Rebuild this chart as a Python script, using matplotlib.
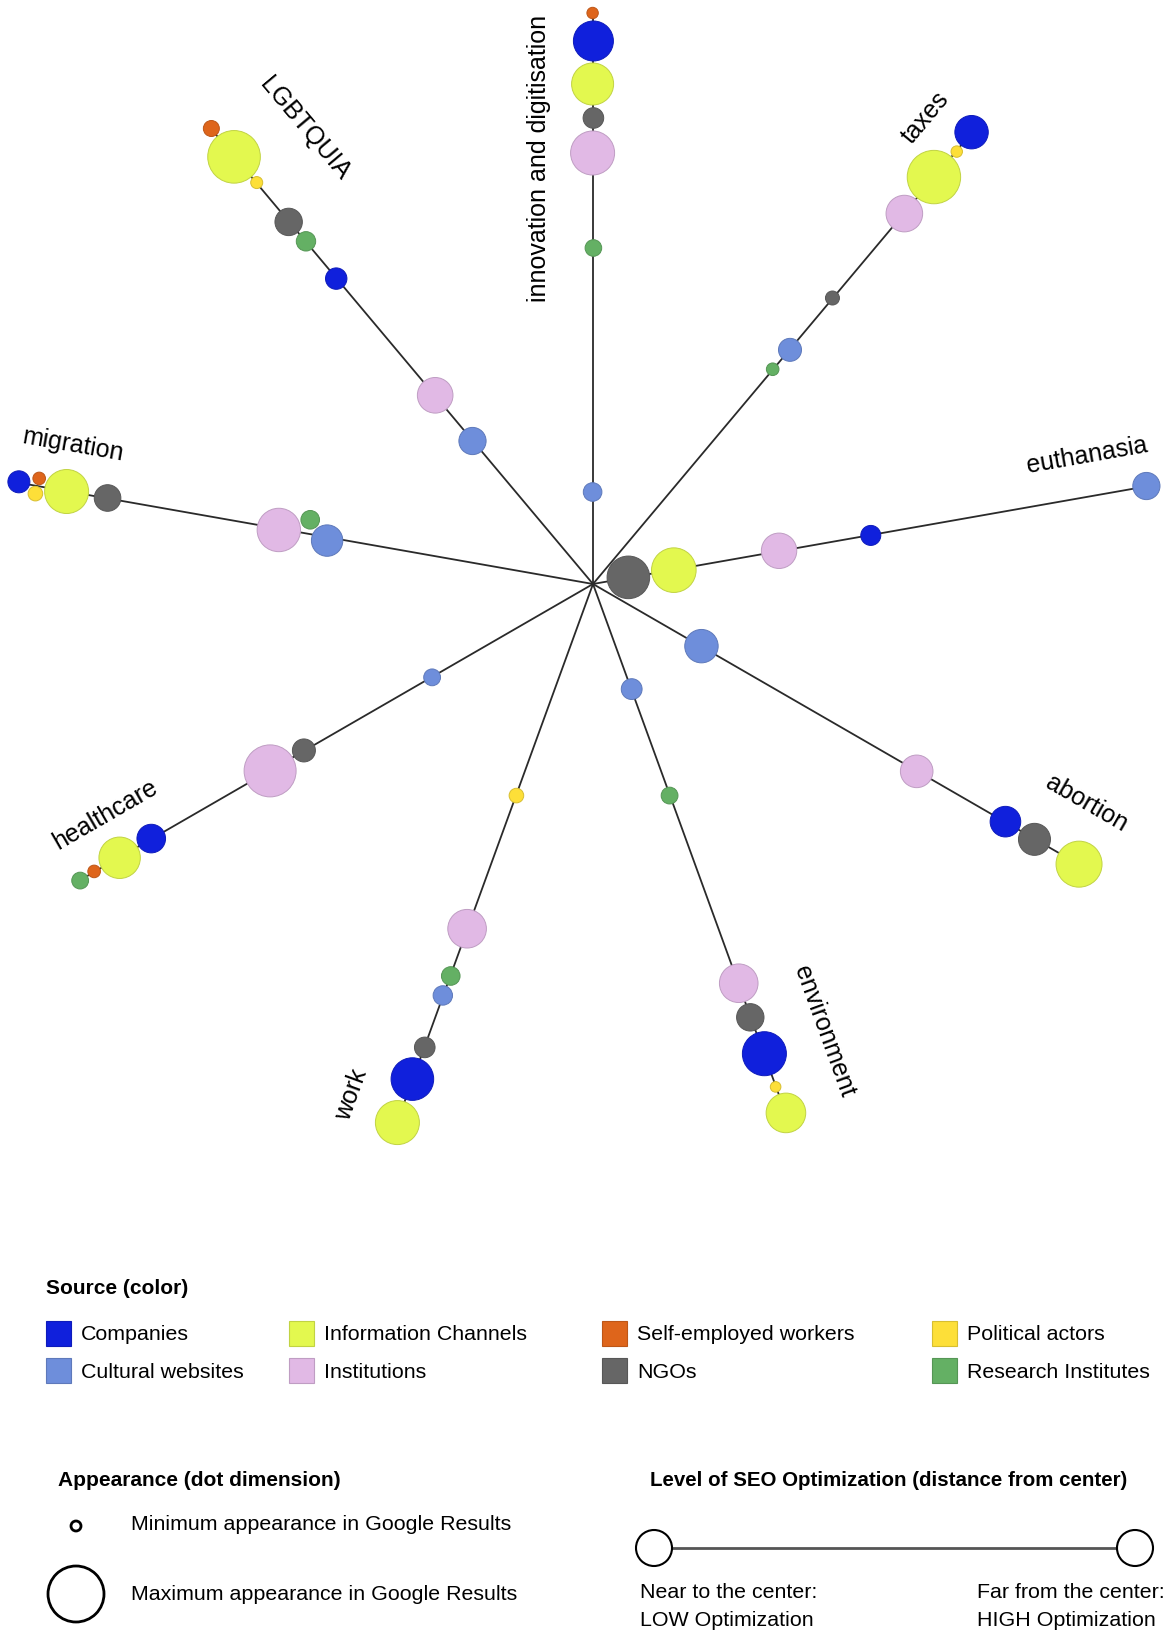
import numpy as np
import matplotlib
matplotlib.use('Agg')
import matplotlib.pyplot as plt
import matplotlib.colors as mcolors
from matplotlib.patches import Circle, Rectangle

plt.rcParams['font.family'] = ['Liberation Sans', 'DejaVu Sans']

# source categories and their colours
categories = ['Companies', 'Cultural websites', 'Information Channels', 'Institutions',
              'Self-employed workers', 'NGOs', 'Political actors', 'Research Institutes']
colors = ['#1020dc', '#6e8edb', '#e3f84f', '#e1b9e5', '#de651b', '#666666', '#fddf38', '#64b064']

topics = ['innovation and digitisation', 'taxes', 'euthanasia', 'abortion', 'environment',
          'work', 'healthcare', 'migration', 'LGBTQUIA']
angles = [90, 50, 10, -30, -70, -110, -150, 170, 130]

# (source, SEO level = distance from centre, appearance = dot radius)
innovation = [('Cultural websites', 92, 9.3), ('Research Institutes', 336, 8.3),
              ('Institutions', 431, 22), ('NGOs', 466, 10.3), ('Information Channels', 500, 21),
              ('Companies', 543, 20), ('Self-employed workers', 571, 5.7)]
taxes = [('Research Institutes', 280, 6.3), ('Cultural websites', 306, 11.5), ('NGOs', 373, 7.0),
         ('Institutions', 484, 18.3), ('Information Channels', 531, 26.7),
         ('Political actors', 565, 5.7), ('Companies', 589, 16.7)]
euthanasia = [('NGOs', 36, 21.3), ('Information Channels', 82, 22.3), ('Institutions', 189, 17.7),
              ('Companies', 282, 10), ('Cultural websites', 562, 13.6)]
abortion = [('Cultural websites', 125, 16.7), ('Institutions', 374, 16.3), ('Companies', 476, 15.3),
            ('NGOs', 510, 16), ('Information Channels', 561, 23)]
environment = [('Cultural websites', 112, 10.4), ('Research Institutes', 225, 8.4),
               ('Institutions', 425, 19.3), ('NGOs', 461, 13.7), ('Companies', 500, 22),
               ('Political actors', 535, 5.3), ('Information Channels', 563, 19.8)]
work = [('Political actors', 225, 7.3), ('Institutions', 367, 19.3), ('Research Institutes', 417, 9.3),
        ('Cultural websites', 438, 9.7), ('NGOs', 493, 10.3), ('Companies', 527, 21.3),
        ('Information Channels', 573, 22)]
healthcare = [('Cultural websites', 186, 8.4), ('NGOs', 334, 11.5), ('Institutions', 373, 26),
              ('Companies', 510, 14.3), ('Information Channels', 547, 20.7),
              ('Self-employed workers', 574, 6.3), ('Research Institutes', 592, 8.4)]
migration = [('Cultural websites', 273, 15.7), ('Research Institutes', 289, 9.3),
             ('Institutions', 317, 21.7), ('NGOs', 493, 13.3), ('Information Channels', 535, 22),
             ('Self-employed workers', 563, 6.3), ('Political actors', 563, 7.3), ('Companies', 582, 11)]
lgbtquia = [('Cultural websites', 187, 13.6), ('Institutions', 246, 17.8), ('Companies', 399, 10.7),
            ('Research Institutes', 447, 9.7), ('NGOs', 473, 13.7), ('Political actors', 525, 6),
            ('Information Channels', 558, 26.3), ('Self-employed workers', 593, 8)]

spokes = [innovation, taxes, euthanasia, abortion, environment, work, healthcare, migration, lgbtquia]

# label placement along / across each spoke
label_along = [426, 571, 509, 537, 499, 562, 538, 536, 534]
label_perp = [54, 45, 41, 57, 64, -52, -44, -47, -72]

cx, cy = 593, 584
W, H = 1168, 1637


def darker(c, f=0.85):
    rgb = np.array(mcolors.to_rgb(c))
    return tuple(rgb * f)


def relax(tx, ty, r, n_iter=300, pad=2.0, pull=0.05):
    # tiny collision-avoiding layout, like a force simulation
    x, y = tx.copy(), ty.copy()
    n = len(x)
    for it in range(n_iter):
        x += pull * (tx - x)
        y += pull * (ty - y)
        dx = x[None, :] - x[:, None]
        dy = y[None, :] - y[:, None]
        dist = np.hypot(dx, dy) + np.eye(n)
        need = r[:, None] + r[None, :] + pad
        over = np.triu(dist < need, 1)
        for i, j in zip(*np.nonzero(over)):
            ddx, ddy = x[j] - x[i], y[j] - y[i]
            d = np.hypot(ddx, ddy)
            if d < 1e-6:
                continue
            shift = (need[i, j] - d) / d
            wi = r[j] ** 2 / (r[i] ** 2 + r[j] ** 2)
            x[i] -= ddx * shift * wi
            y[i] -= ddy * shift * wi
            x[j] += ddx * shift * (1 - wi)
            y[j] += ddy * shift * (1 - wi)
    return x, y


# collect all dots
tx, ty, rr, cc = [], [], [], []
for a, dots in zip(angles, spokes):
    th = np.deg2rad(a)
    ux, uy = np.cos(th), -np.sin(th)
    nx, ny = -uy, ux
    for k, (src, d, rad) in enumerate(dots):
        jit = 0.4 if k % 2 else -0.4
        tx.append(cx + d * ux + jit * nx)
        ty.append(cy + d * uy + jit * ny)
        rr.append(rad)
        cc.append(colors[categories.index(src)])
tx, ty, rr = np.array(tx), np.array(ty), np.array(rr)
px, py = relax(tx, ty, rr)

fig = plt.figure(figsize=(W / 100, H / 100), dpi=100)
ax = fig.add_axes([0, 0, 1, 1])
ax.set_xlim(0, W)
ax.set_ylim(H, 0)
ax.axis('off')

# spokes
for a, dots in zip(angles, spokes):
    th = np.deg2rad(a)
    dmax = max(d for _, d, _ in dots)
    ax.plot([cx, cx + dmax * np.cos(th)], [cy, cy - dmax * np.sin(th)],
            color='#2a2a2a', lw=1.3, zorder=1, solid_capstyle='butt')

# dots
for x, y, r, c in zip(px, py, rr, cc):
    ax.add_patch(Circle((x, y), r, facecolor=c, edgecolor=darker(c), lw=0.7, zorder=3))

# topic labels
for name, a, al, pp in zip(topics, angles, label_along, label_perp):
    th = np.deg2rad(a)
    ux, uy = np.cos(th), np.sin(th)
    nx, ny = -uy, ux
    lx = cx + al * ux + pp * nx
    ly = cy - (al * uy + pp * ny)
    rot = a
    if rot > 90:
        rot -= 180
    elif rot < -90:
        rot += 180
    ax.text(lx, ly, name, rotation=rot, rotation_mode='anchor', ha='center', va='center',
            fontsize=18, color='black')

fs = 15.4

# legend: source colour
ax.text(46, 1289, 'Source (color)', fontsize=15, fontweight='bold', va='center')
col_x = [46, 289, 602, 932]
row_y = [1333, 1370]
for k, (cat, c) in enumerate(zip(categories, colors)):
    x0 = col_x[k // 2]
    y0 = row_y[k % 2]
    ax.add_patch(Rectangle((x0, y0 - 12.5), 25, 25, facecolor=c, edgecolor=darker(c), lw=0.8))
    ax.text(x0 + 35, y0 + 2, cat, fontsize=fs, va='center')

# legend: appearance
ax.text(58, 1481, 'Appearance (dot dimension)', fontsize=15, fontweight='bold', va='center')
ax.add_patch(Circle((76, 1526), 5, facecolor='white', edgecolor='black', lw=2))
ax.text(131, 1525, 'Minimum appearance in Google Results', fontsize=fs, va='center')
ax.add_patch(Circle((76, 1594), 28, facecolor='white', edgecolor='black', lw=2))
ax.text(131, 1595, 'Maximum appearance in Google Results', fontsize=fs, va='center')

# legend: SEO optimization
ax.text(650, 1481, 'Level of SEO Optimization (distance from center)', fontsize=14.8,
        fontweight='bold', va='center')
ax.plot([654, 1135], [1548, 1548], color='#555555', lw=2, zorder=1)
for xc in [654, 1135]:
    ax.add_patch(Circle((xc, 1548), 18, facecolor='white', edgecolor='black', lw=1.5, zorder=2))
ax.text(640, 1593, 'Near to the center:', fontsize=fs, va='center')
ax.text(640, 1620, 'LOW Optimization', fontsize=fs, va='center')
ax.text(977, 1593, 'Far from the center:', fontsize=fs, va='center')
ax.text(977, 1620, 'HIGH Optimization', fontsize=fs, va='center')

fig.savefig('out.png', dpi=100)
